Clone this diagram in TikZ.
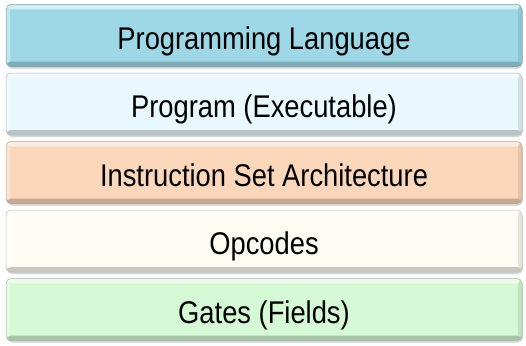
\documentclass[tikz,border=0pt]{standalone}
\usepackage{fontspec}
\newfontfamily\lsans{Liberation Sans}
\usetikzlibrary{shadows}
\definecolor{cA}{RGB}{158,216,231}
\definecolor{cB}{RGB}{233,248,252}
\definecolor{cC}{RGB}{250,215,186}
\definecolor{cD}{RGB}{255,252,244}
\definecolor{cE}{RGB}{213,249,213}
\newcommand{\laytext}[1]{\raisebox{-13.5pt}[0pt][0pt]{\scalebox{0.87}[1]{#1}}}
\tikzset{
  layer/.style={rounded corners=5pt, minimum width=516pt, minimum height=62pt,
    inner sep=0pt, font=\lsans\fontsize{31.4}{36}\selectfont, text=black,
    draw=#1!75!black, line width=0.5pt, fill=#1,
    drop shadow={shadow xshift=1pt, shadow yshift=-2pt, opacity=0.35},
    path picture={
      \fill[white,opacity=0.55] (path picture bounding box.north west) rectangle ([yshift=-5pt]path picture bounding box.north east);
      \fill[white,opacity=0.35] (path picture bounding box.north west) rectangle ([xshift=4pt]path picture bounding box.south west);
      \fill[#1!65!black,opacity=0.6] ([yshift=5pt]path picture bounding box.south west) rectangle (path picture bounding box.south east);
      \fill[#1!80!black,opacity=0.45] ([xshift=-4pt]path picture bounding box.north east) rectangle (path picture bounding box.south east);
    }}
}
\begin{document}
\begin{tikzpicture}[x=1pt,y=-1pt]
\useasboundingbox (0,0) rectangle (526,345);
\node[layer=cA] (pl) at (264,35.5) {\laytext{Programming Language}};
\node[layer=cB] (pe) at (264,104) {\laytext{Program (Executable)}};
\node[layer=cC] (isa) at (264,172.5) {\laytext{Instruction Set Architecture}};
\node[layer=cD] (op) at (264,241) {\laytext{Opcodes}};
\node[layer=cE] (ga) at (264,309.5) {\laytext{Gates (Fields)}};
\end{tikzpicture}
\end{document}
